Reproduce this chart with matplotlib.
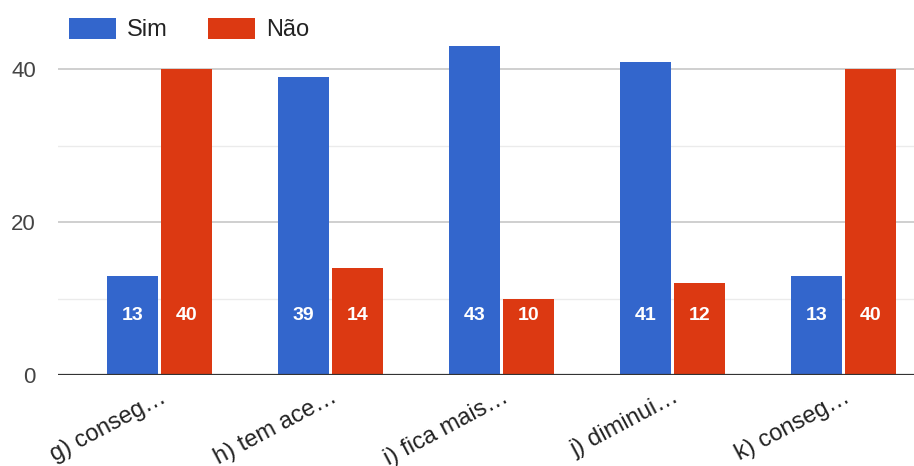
import matplotlib
matplotlib.use("Agg")
import matplotlib.pyplot as plt
import numpy as np
from matplotlib.patches import Patch

categories = ["g) conseg…", "h) tem ace…", "i) fica mais…", "j) diminui…", "k) conseg…"]
sim = [13, 39, 43, 41, 13]
nao = [40, 14, 10, 12, 40]
series_names = ["Sim", "Não"]
colors = ["#3366CC", "#DC3912"]

plt.rcParams['font.family'] = ['Liberation Sans', 'DejaVu Sans']

fig = plt.figure(figsize=(9.14, 4.66), dpi=100)
ax = fig.add_axes([58/914, 91/466, 1 - 58/914, (375-31)/466])

x = np.arange(len(categories))
w = 0.30
gap = 0.009
b1 = ax.bar(x - w/2 - gap, sim, w, color=colors[0], zorder=3)
b2 = ax.bar(x + w/2 + gap, nao, w, color=colors[1], zorder=3)

for bars, vals in ((b1, sim), (b2, nao)):
    for r, v in zip(bars, vals):
        ax.text(r.get_x() + r.get_width()/2, 7.8, str(v), ha='center', va='center',
                color='white', fontsize=14, fontweight='bold', zorder=4)

ax.set_xlim(-0.594, 4.412)
ax.set_ylim(0, 45)
ax.set_yticks([0, 20, 40])
for yv in [20, 40]:
    ax.axhline(yv, color='#cccccc', lw=1.3, zorder=1)
for yv in [10, 30]:
    ax.axhline(yv, color='#ebebeb', lw=1.0, zorder=1)
ax.axhline(0, color='#333333', lw=1.6, zorder=5)

for s in ax.spines.values():
    s.set_visible(False)
ax.tick_params(axis='y', length=0, pad=16, labelsize=16, labelcolor='#444444')
ax.tick_params(axis='x', length=0, pad=8)
ax.set_xticks(x)
ax.set_xticklabels(categories, rotation=28, ha='right', rotation_mode='anchor',
                   fontsize=17, color='#222222')

handles = [Patch(facecolor=c) for c in colors]
fig.legend(handles, series_names, loc='upper left', bbox_to_anchor=(69/914, 1 - 18/466),
           ncol=2, frameon=False, fontsize=17, handlelength=2.0, handleheight=0.97,
           columnspacing=1.7, handletextpad=0.47, borderpad=0, borderaxespad=0,
           labelcolor='#222222')

fig.savefig("out.png", dpi=100)
